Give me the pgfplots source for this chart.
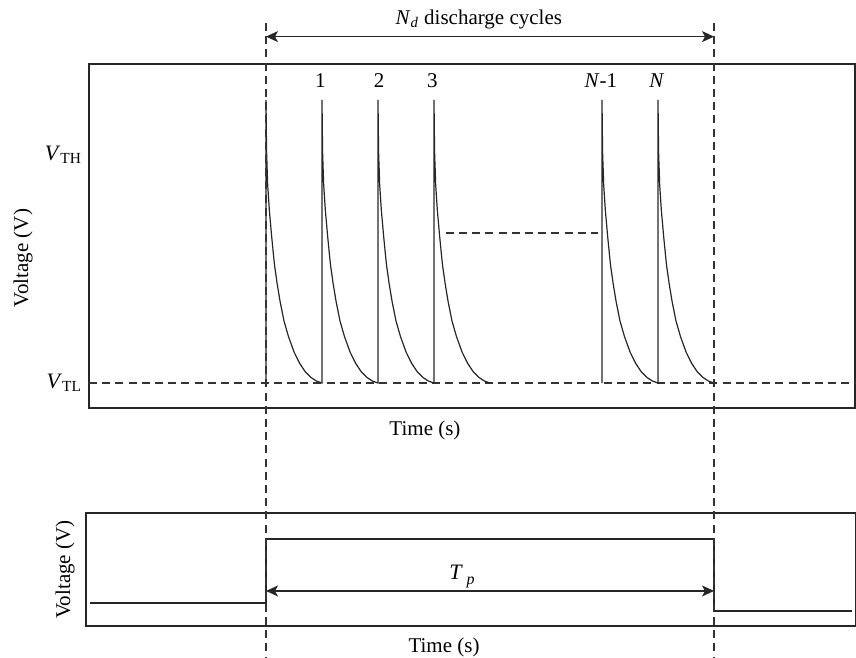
\documentclass[border=0pt]{standalone}
\usepackage{fontspec}
\setmainfont{Liberation Serif}
\usepackage{pgfplots}
\pgfplotsset{compat=1.18}
\usetikzlibrary{arrows.meta}

\tikzset{
  ln/.style={black!85, line width=0.6pt},
  dsh/.style={black!80, line width=0.6pt, dash pattern=on 4pt off 2.6pt},
  arr/.style={black!85, line width=0.6pt, -{Stealth[length=6pt,width=5.5pt,inset=1.5pt]}},
  darr/.style={black!85, line width=0.6pt, {Stealth[length=6pt,width=5.5pt,inset=1.5pt]}-{Stealth[length=6pt,width=5.5pt,inset=1.5pt]}},
}

\begin{document}
\begin{tikzpicture}
\useasboundingbox (0,0) rectangle (428pt,-329pt);

% upper panel: capacitor voltage during the discharge cycles
\begin{axis}[
    name=top, at={(44.5pt,-204pt)}, anchor=south west,
    scale only axis, width=383pt, height=172pt,
    xmin=-3.1607, xmax=10.5179, ymin=-0.0883, ymax=1.1272,
    xtick=\empty, ytick={0,0.806},
    yticklabels={\textit{V}\textsubscript{TL}, \textit{V}\textsubscript{TH}},
    major tick length=0, clip=false,
    axis line style={black!85, line width=0.6pt},
    tick label style={font=\fontsize{11}{13}\selectfont},
    label style={font=\fontsize{10.5}{12}\selectfont},
    xlabel={Time (s)}, ylabel={Voltage (V)},
    xlabel style={at={(axis description cs:0.4386,-0.064)}, anchor=center},
    ylabel style={at={(axis description cs:-0.086,0.436)}, anchor=center},
]
\addplot[dsh] coordinates {(-3.1607,0) (10.5179,0)};
\addplot[dsh] coordinates {(3.21,0.53) (5.93,0.53)};
\addplot[ln] coordinates {
 (0,0) (0,1) (0.01,0.82) (0.03,0.70) (0.06,0.61) (0.10,0.52) (0.15,0.42) (0.20,0.35) (0.25,0.29) (0.32,0.22) (0.40,0.165) (0.50,0.11) (0.60,0.07) (0.70,0.04) (0.80,0.02) (0.90,0.007)
 (1,0) (1,1) (1.01,0.82) (1.03,0.70) (1.06,0.61) (1.10,0.52) (1.15,0.42) (1.20,0.35) (1.25,0.29) (1.32,0.22) (1.40,0.165) (1.50,0.11) (1.60,0.07) (1.70,0.04) (1.80,0.02) (1.90,0.007)
 (2,0) (2,1) (2.01,0.82) (2.03,0.70) (2.06,0.61) (2.10,0.52) (2.15,0.42) (2.20,0.35) (2.25,0.29) (2.32,0.22) (2.40,0.165) (2.50,0.11) (2.60,0.07) (2.70,0.04) (2.80,0.02) (2.90,0.007)
 (3,0) (3,1) (3.01,0.82) (3.03,0.70) (3.06,0.61) (3.10,0.52) (3.15,0.42) (3.20,0.35) (3.25,0.29) (3.32,0.22) (3.40,0.165) (3.50,0.11) (3.60,0.07) (3.70,0.04) (3.80,0.02) (3.90,0.007) (4,0)
};
\addplot[ln] coordinates {
 (6,0) (6,1) (6.01,0.82) (6.03,0.70) (6.06,0.61) (6.10,0.52) (6.15,0.42) (6.20,0.35) (6.25,0.29) (6.32,0.22) (6.40,0.165) (6.50,0.11) (6.60,0.07) (6.70,0.04) (6.80,0.02) (6.90,0.007)
 (7,0) (7,1) (7.01,0.82) (7.03,0.70) (7.06,0.61) (7.10,0.52) (7.15,0.42) (7.20,0.35) (7.25,0.29) (7.32,0.22) (7.40,0.165) (7.50,0.11) (7.60,0.07) (7.70,0.04) (7.80,0.02) (7.90,0.007) (8,0)
};
\begin{scope}[font=\fontsize{10.5}{12}\selectfont]
\node at (axis cs:0.97,1.067) {1};
\node at (axis cs:2.02,1.067) {2};
\node at (axis cs:2.97,1.067) {3};
\node at (axis cs:5.98,1.067) {\textit{N}-1};
\node at (axis cs:6.98,1.067) {\textit{N}};
\node at (axis cs:3.8,1.286) {\textit{N}\textsubscript{\textit{d}} discharge cycles};
\end{scope}
\draw[arr] (axis cs:4,1.224) -- (axis cs:8,1.224);
\draw[arr] (axis cs:4,1.224) -- (axis cs:0,1.224);
\coordinate (d0) at (axis cs:0,1.272);
\coordinate (d8) at (axis cs:8,1.272);
\end{axis}

% lower panel: gate pulse of width T_p
\begin{axis}[
    name=bot, at={(43pt,-313pt)}, anchor=south west,
    scale only axis, width=385pt, height=56.5pt,
    xmin=-3.2143, xmax=10.5357, ymin=0, ymax=1,
    xtick=\empty, ytick=\empty, clip=false,
    axis line style={black!85, line width=0.6pt},
    label style={font=\fontsize{10.5}{12}\selectfont},
    xlabel={Time (s)}, ylabel={Voltage (V)},
    xlabel style={at={(axis description cs:0.465,-0.186)}, anchor=center},
    ylabel style={at={(axis description cs:-0.027,0.5)}, anchor=center},
]
\addplot[ln] coordinates {(-3.14,0.204) (0,0.204) (0,0.77) (8,0.77) (8,0.133) (10.46,0.133)};
\draw[darr] (axis cs:0,0.31) -- (axis cs:8,0.31);
\node[font=\fontsize{11}{13}\selectfont] at (axis cs:3.5,0.44) {\textit{T}\,\raisebox{-0.5ex}{\footnotesize\textit{p}}};
\end{axis}

\draw[dsh] (d0) -- (d0 |- 0,-329pt);
\draw[dsh] (d8) -- (d8 |- 0,-329pt);
\end{tikzpicture}
\end{document}
